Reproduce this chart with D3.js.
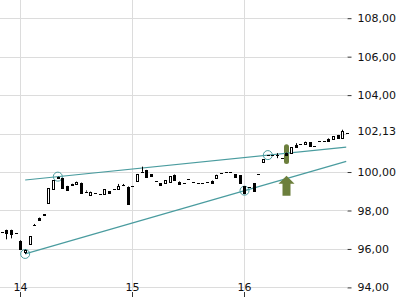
<!doctype html>
<html>
<head>
  <script src="https://d3js.org/d3.v7.min.js"></script>
  <style>
    body { margin: 0; background: #fff; }
    text { font-family: "DejaVu Sans", sans-serif; }
  </style>
</head>
<body>
  <svg width="400" height="300"></svg>
  <script>
    // hourly candles, hour offset from day 14 00:00
    var hours = d3.range(-4, 71)
    var openVals = [96.86, 96.98, 96.98, 96.81, 96.43, 95.82, 96.24, 97.24, 97.62, 97.80,
      98.39, 99.12, 99.72, 99.69, 99.27, 99.38, 99.38, 99.44, 99.03, 98.84,
      98.89, 98.87, 98.84, 99.00, 99.12, 99.10, 99.30, 99.24, 99.29, 99.53,
      100.05, 100.10, 99.88, 99.55, 99.41, 99.41, 99.50, 99.86, 99.50, 99.43,
      99.65, 99.50, 99.44, 99.41, 99.48, 99.55, 99.72, 99.93, 99.98, 99.99,
      99.88, 99.83, 99.25, 99.22, 99.41, 99.90, 100.50, 100.88, 100.88, 100.90,
      100.71, 101.00, 100.97, 101.40, 101.44, 101.46, 101.54, 101.33, 101.61, 101.61,
      101.74, 101.70, 101.92, 101.77, 102.03]
    var highVals = [96.86, 97.00, 97.00, 96.81, 96.45, 95.97, 96.67, 97.30, 97.63, 97.81,
      99.17, 99.58, 99.76, 99.70, 99.28, 99.39, 99.50, 99.45, 99.04, 98.98,
      98.89, 98.87, 99.10, 99.01, 99.12, 99.38, 99.38, 99.25, 99.29, 99.90,
      100.28, 100.11, 99.89, 99.55, 99.42, 99.58, 99.79, 99.87, 99.51, 99.43,
      99.65, 99.50, 99.44, 99.41, 99.48, 99.56, 99.86, 99.93, 99.98, 99.99,
      99.89, 99.84, 99.26, 99.22, 99.42, 99.90, 100.66, 100.88, 100.88, 100.98,
      100.71, 101.01, 101.28, 101.50, 101.44, 101.58, 101.55, 101.33, 101.61, 101.61,
      101.75, 101.87, 101.93, 102.20, 102.03]
    var lowVals = [96.86, 96.50, 96.55, 96.81, 95.98, 95.74, 96.22, 97.20, 97.50, 97.73,
      98.38, 99.10, 99.66, 99.17, 99.06, 99.32, 99.37, 98.92, 98.98, 98.83,
      98.89, 98.87, 98.83, 98.87, 99.12, 99.09, 99.27, 98.34, 99.29, 99.52,
      100.01, 99.76, 99.79, 99.55, 99.31, 99.40, 99.49, 99.58, 99.41, 99.43,
      99.65, 99.50, 99.44, 99.41, 99.48, 99.46, 99.71, 99.93, 99.98, 99.99,
      99.70, 99.43, 98.85, 99.22, 99.00, 99.90, 100.49, 100.88, 100.88, 100.72,
      100.71, 100.92, 100.96, 101.32, 101.44, 101.45, 101.35, 101.33, 101.61, 101.61,
      101.61, 101.69, 101.74, 101.76, 102.03]
    var closeVals = [96.86, 96.81, 96.76, 96.81, 96.00, 95.95, 96.67, 97.24, 97.50, 97.73,
      99.17, 99.58, 99.66, 99.17, 99.06, 99.32, 99.50, 98.92, 98.98, 98.98,
      98.89, 98.87, 99.10, 98.87, 99.12, 99.27, 99.30, 98.34, 99.29, 99.90,
      100.02, 99.76, 99.79, 99.55, 99.31, 99.58, 99.79, 99.58, 99.41, 99.43,
      99.65, 99.50, 99.44, 99.41, 99.48, 99.46, 99.86, 99.93, 99.98, 99.99,
      99.70, 99.43, 98.89, 99.22, 99.00, 99.90, 100.66, 100.88, 100.88, 100.90,
      100.71, 100.92, 101.28, 101.32, 101.44, 101.58, 101.35, 101.33, 101.61, 101.61,
      101.61, 101.87, 101.74, 102.15, 102.03]

    var dayTicks = [14, 15, 16]
    var priceTicks = [94, 96, 98, 100, 102, 104, 106, 108]
    var lastPrice = 102.13

    // trend lines: [hour, price] pairs (touch points marked with circles)
    var upperTouches = [[8, 99.76], [53, 100.88]]
    var lowerTouches = [[1, 95.74], [48, 99.03]]
    var lineStartHour = 1
    var lineEndHour = 69.8

    // signal candle and range of its highlight
    var signalHour = 57
    var signalRange = [100.42, 101.45]
    var arrowTip = 99.8

    var svg = d3.select("svg")
    var width = 347
    var height = 300

    var x = d3.scaleLinear().domain([14 - 20.5 / 112, 14 + 326.5 / 112]).range([0, width])
    var y = d3.scaleLinear().domain([94, 108]).range([287.4, 18.2])
    var hx = function(h) { return x(14 + h / 24) }

    var candles = hours.map(function(h, i) {
      return { h: h, o: openVals[i], hi: highVals[i], lo: lowVals[i], c: closeVals[i] }
    })

    var locale = d3.formatLocale({ decimal: ",", thousands: ".", grouping: [3], currency: ["", ""] })
    var fmt = locale.format(".2f")

    // grid
    svg.append("g").selectAll("line")
      .data(priceTicks).enter().append("line")
      .attr("x1", 0).attr("x2", width)
      .attr("y1", function(d) { return Math.round(y(d)) + 0.5 })
      .attr("y2", function(d) { return Math.round(y(d)) + 0.5 })
      .attr("stroke", "#dcdcdc")

    svg.append("g").selectAll("line")
      .data(dayTicks).enter().append("line")
      .attr("x1", function(d) { return Math.round(x(d)) + 0.5 })
      .attr("x2", function(d) { return Math.round(x(d)) + 0.5 })
      .attr("y1", 0).attr("y2", 291)
      .attr("stroke", "#dcdcdc")

    // right axis
    var yAxis = d3.axisRight(y)
      .tickValues(priceTicks.filter(function(d) { return d != 102 }))
      .tickSize(4).tickPadding(6)
      .tickFormat(fmt)
    var ya = svg.append("g").attr("transform", "translate(" + 347.5 + ",0)").call(yAxis)
    ya.select(".domain").remove()
    ya.selectAll("text").attr("font-size", "11px").attr("font-family", "DejaVu Sans").attr("fill", "#111")
    ya.selectAll("line").attr("stroke", "#333")

    svg.append("text")
      .attr("x", 357.5).attr("y", y(lastPrice))
      .attr("dy", "0.32em")
      .attr("font-size", "11px").attr("fill", "#111")
      .text(fmt(lastPrice))

    // bottom axis (labels above ticks)
    var xa = svg.append("g")
    xa.selectAll("line").data(dayTicks).enter().append("line")
      .attr("x1", function(d) { return Math.round(x(d)) + 0.5 })
      .attr("x2", function(d) { return Math.round(x(d)) + 0.5 })
      .attr("y1", 292).attr("y2", 297)
      .attr("stroke", "#333")
    xa.selectAll("text").data(dayTicks).enter().append("text")
      .attr("x", function(d) { return x(d) })
      .attr("y", 291)
      .attr("text-anchor", "middle")
      .attr("font-size", "11px").attr("fill", "#111")
      .text(function(d) { return d })

    // signal highlight
    var olive = "#6c7f3c"
    svg.append("rect")
      .attr("x", hx(signalHour) - 2.5).attr("width", 5)
      .attr("y", y(signalRange[1])).attr("height", y(signalRange[0]) - y(signalRange[1]))
      .attr("rx", 2.5)
      .attr("fill", olive)

    // trend lines
    var teal = "#4a9c9f"
    function trend(pts) {
      var slope = (pts[1][1] - pts[0][1]) / (pts[1][0] - pts[0][0])
      return function(h) { return pts[0][1] + slope * (h - pts[0][0]) }
    }
    ;[upperTouches, lowerTouches].forEach(function(pts) {
      var f = trend(pts)
      svg.append("line")
        .attr("x1", hx(lineStartHour)).attr("y1", y(f(lineStartHour)))
        .attr("x2", hx(lineEndHour)).attr("y2", y(f(lineEndHour)))
        .attr("stroke", teal).attr("stroke-width", 1.2)
      svg.selectAll(null).data(pts).enter().append("circle")
        .attr("cx", function(d) { return hx(d[0]) })
        .attr("cy", function(d) { return y(d[1]) })
        .attr("r", 4.5)
        .attr("fill", "none").attr("stroke", teal).attr("stroke-width", 1)
    })

    // candles
    var cg = svg.append("g").selectAll("g").data(candles).enter().append("g")
    cg.append("line")
      .attr("x1", function(d) { return Math.round(hx(d.h)) + 0.5 })
      .attr("x2", function(d) { return Math.round(hx(d.h)) + 0.5 })
      .attr("y1", function(d) { return y(d.hi) })
      .attr("y2", function(d) { return y(d.lo) })
      .attr("stroke", "#000")
    cg.filter(function(d) { return Math.abs(y(d.o) - y(d.c)) >= 1 })
      .append("rect")
      .attr("x", function(d) { return Math.round(hx(d.h)) - 0.5 })
      .attr("width", 2)
      .attr("y", function(d) { return Math.round(y(Math.max(d.o, d.c))) + 0.5 })
      .attr("height", function(d) { return Math.max(1, Math.round(y(Math.min(d.o, d.c)) - y(Math.max(d.o, d.c)))) })
      .attr("fill", function(d) { return d.c > d.o ? "#fff" : "#000" })
      .attr("stroke", "#000")
      .attr("shape-rendering", "crispEdges")
    // doji: open and close on the same pixel row
    cg.filter(function(d) { return Math.abs(y(d.o) - y(d.c)) < 1 })
      .append("line")
      .attr("x1", function(d) { return Math.round(hx(d.h)) - 1 })
      .attr("x2", function(d) { return Math.round(hx(d.h)) + 2 })
      .attr("y1", function(d) { return Math.round(y(d.c)) + 0.5 })
      .attr("y2", function(d) { return Math.round(y(d.c)) + 0.5 })
      .attr("stroke", "#000")
      .attr("shape-rendering", "crispEdges")

    // signal arrow
    var ax = hx(signalHour)
    var at = y(arrowTip)
    svg.append("path")
      .attr("d", "M" + ax + "," + at +
        " L" + (ax + 8) + "," + (at + 8) +
        " L" + (ax + 4) + "," + (at + 8) +
        " L" + (ax + 4) + "," + (at + 20) +
        " L" + (ax - 4) + "," + (at + 20) +
        " L" + (ax - 4) + "," + (at + 8) +
        " L" + (ax - 8) + "," + (at + 8) + " Z")
      .attr("fill", olive)
  </script>
</body>
</html>
